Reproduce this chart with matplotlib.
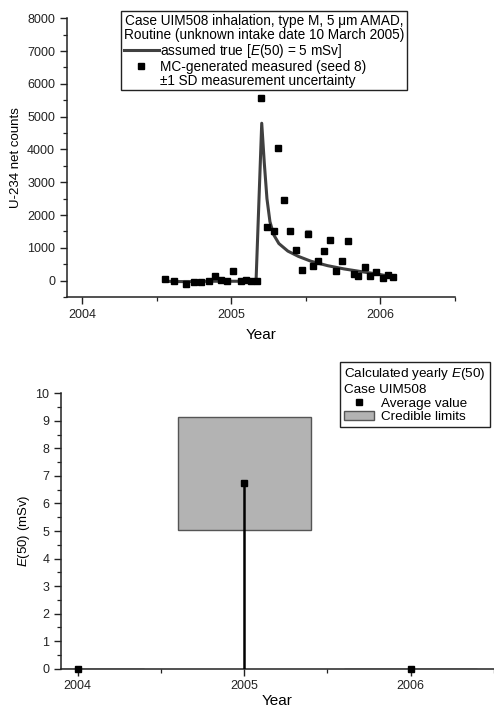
import matplotlib
matplotlib.use("Agg")
import matplotlib.pyplot as plt
from matplotlib.lines import Line2D
from matplotlib.patches import Patch
from matplotlib.ticker import MultipleLocator

plt.rcParams['font.family'] = ['Liberation Sans', 'DejaVu Sans']
plt.rcParams['mathtext.fontset'] = 'custom'
plt.rcParams['mathtext.rm'] = 'Liberation Sans'
plt.rcParams['mathtext.it'] = 'Liberation Sans:italic'

# --- top panel data: assumed true curve and MC-generated measurements ---
curve_year = [2004.55, 2004.65, 2004.75, 2004.85, 2004.95, 2005.05, 2005.167,
              2005.205, 2005.222, 2005.240, 2005.260, 2005.285, 2005.320,
              2005.380, 2005.450, 2005.535, 2005.647, 2005.758, 2005.87,
              2005.98, 2006.08]
curve_val = [-20, -30, -30, -20, -20, -20, -10,
             4800, 3600, 2500, 1800, 1400, 1130,
             900, 740, 590, 455, 355, 275,
             200, 115]

meas_year = [2004.555, 2004.62, 2004.70, 2004.75, 2004.80, 2004.85, 2004.893,
             2004.93, 2004.97, 2005.01, 2005.067, 2005.10, 2005.133, 2005.17,
             2005.20, 2005.241, 2005.285, 2005.312, 2005.352, 2005.397,
             2005.435, 2005.473, 2005.513, 2005.546, 2005.584, 2005.624,
             2005.664, 2005.702, 2005.742, 2005.785, 2005.825, 2005.852,
             2005.896, 2005.932, 2005.972, 2006.015, 2006.048, 2006.084]
meas_val = [40, -20, -90, -30, -50, -10, 130,
            20, 0, 285, 0, 10, 0, 0,
            5580, 1650, 1500, 4040, 2470, 1500,
            940, 335, 1430, 435, 590, 890,
            1250, 285, 590, 1200, 215, 135,
            405, 135, 275, 70, 185, 100]
meas_sd = [40, 50, 110, 50, 40, 40, 50,
           40, 40, 50, 40, 40, 40, 40,
           90, 60, 60, 80, 70, 60,
           50, 40, 110, 40, 50, 50,
           60, 40, 50, 60, 40, 30,
           40, 30, 40, 30, 30, 30]

# --- bottom panel data: yearly E(50) ---
years = [2004, 2005, 2006]
e50_avg = [0.0, 6.75, 0.0]
e50_low = [0.0, 5.05, 0.0]
e50_high = [0.0, 9.15, 0.0]

fig = plt.figure(figsize=(4.94, 7.10), dpi=100)
ax1 = fig.add_axes([0.1356, 0.5817, 0.7854, 0.3925])
ax2 = fig.add_axes([0.1235, 0.0582, 0.8765, 0.3878])

spine_col = '#222222'
for ax in (ax1, ax2):
    ax.spines['top'].set_visible(False)
    ax.spines['right'].set_visible(False)
    for s in ('left', 'bottom'):
        ax.spines[s].set_linewidth(1.1)
        ax.spines[s].set_color(spine_col)
    ax.tick_params(which='major', direction='out', length=5, width=1.0,
                   labelsize=9, colors=spine_col, labelcolor='#222222')
    ax.tick_params(which='minor', direction='out', length=3, width=0.9,
                   colors=spine_col)
    ax.xaxis.set_major_locator(MultipleLocator(1))
    ax.xaxis.set_minor_locator(MultipleLocator(0.5))
    ax.xaxis.set_major_formatter(plt.FuncFormatter(lambda v, p: f'{v:.0f}'))

# top panel
ax1.errorbar(meas_year, meas_val, yerr=meas_sd, fmt='none', ecolor='#999999',
             elinewidth=0.8, capsize=2, capthick=0.8, zorder=2)
ax1.plot(curve_year, curve_val, color='#404040', lw=2.2, zorder=3)
ax1.plot(meas_year, meas_val, 's', color='black', ms=4.5, zorder=4)
ax1.set_xlim(2003.9, 2006.5)
ax1.set_ylim(-500, 8000)
ax1.yaxis.set_major_locator(MultipleLocator(1000))
ax1.yaxis.set_minor_locator(MultipleLocator(500))
ax1.set_xlabel('Year', fontsize=11, labelpad=5)
ax1.set_ylabel('U-234 net counts', fontsize=9.5, labelpad=4)

h_line = Line2D([], [], color='#404040', lw=2.2)
h_mark = Line2D([], [], ls='none', marker='s', color='black', ms=4.5)
h_none = Line2D([], [], ls='none')
leg1 = ax1.legend([h_line, h_mark, h_none],
                  ['assumed true [$E$(50) = 5 mSv]',
                   'MC-generated measured (seed 8)',
                   '\u00b11 SD measurement uncertainty'],
                  title='Case UIM508 inhalation, type M, 5 \u03bcm AMAD,\n'
                        'Routine (unknown intake date 10 March 2005)',
                  alignment='left',
                  loc='upper left', bbox_to_anchor=(121 / 494, 1 - 11 / 710),
                  bbox_transform=fig.transFigure, fontsize=9.8,
                  title_fontsize=9.8, fancybox=False, framealpha=1,
                  edgecolor='#222222', handlelength=2.6, handletextpad=0.1,
                  labelspacing=0.0, borderpad=0.2, borderaxespad=0,
                  handleheight=0.6)
leg1.get_title().set_multialignment('center')
leg1.get_title().set_linespacing(1.0)
leg1.get_frame().set_linewidth(1.0)

# bottom panel
ax2.bar(years, [h - l for h, l in zip(e50_high, e50_low)], bottom=e50_low,
        width=0.8, color='#b3b3b3', edgecolor='#555555', linewidth=1.0,
        zorder=2)
ax2.vlines(years, 0, e50_avg, color='black', lw=1.8, zorder=3)
ax2.plot(years, e50_avg, 's', color='black', ms=4.5, zorder=4, clip_on=False)
ax2.set_xlim(2003.9, 2006.5)
ax2.set_ylim(0, 10)
ax2.yaxis.set_major_locator(MultipleLocator(1))
ax2.yaxis.set_minor_locator(MultipleLocator(0.5))
ax2.set_xlabel('Year', fontsize=11, labelpad=1)
ax2.set_ylabel('$E$(50) (mSv)', fontsize=9.5, labelpad=2)

h_avg = Line2D([], [], ls='none', marker='s', color='black', ms=4)
h_cl = Patch(facecolor='#b3b3b3', edgecolor='#555555')
leg2 = ax2.legend([h_avg, h_cl], ['Average value', 'Credible limits'],
                  title='Calculated yearly $E$(50)\nCase UIM508',
                  alignment='left', loc='upper right',
                  bbox_to_anchor=(490 / 494, 1 - 362 / 710),
                  bbox_transform=fig.transFigure, fontsize=9.7,
                  title_fontsize=9.7, fancybox=False, framealpha=1,
                  edgecolor='#222222', handlelength=2.2, handletextpad=0.5,
                  labelspacing=0.1, borderpad=0.3, borderaxespad=0)
leg2.get_frame().set_linewidth(1.0)

fig.savefig('out.png', dpi=100)
